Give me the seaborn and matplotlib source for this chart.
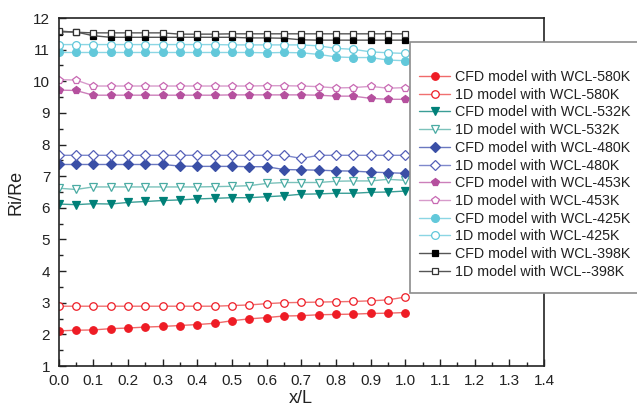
import numpy as np
import pandas as pd
import matplotlib
matplotlib.use("Agg")
import matplotlib.pyplot as plt
from matplotlib.patches import Rectangle
import seaborn as sns

# ---------------- data ----------------
x_over_L = [0.00, 0.05, 0.10, 0.15, 0.20, 0.25, 0.30, 0.35, 0.40, 0.45, 0.50,
            0.55, 0.60, 0.65, 0.70, 0.75, 0.80, 0.85, 0.90, 0.95, 1.00]

cfd_580 = [2.11, 2.13, 2.14, 2.18, 2.20, 2.23, 2.25, 2.28, 2.31, 2.35, 2.43,
           2.49, 2.53, 2.58, 2.59, 2.62, 2.63, 2.64, 2.66, 2.67, 2.69]
d1_580 = [2.89, 2.89, 2.89, 2.89, 2.89, 2.89, 2.89, 2.89, 2.89, 2.89, 2.91,
          2.93, 2.97, 3.00, 3.01, 3.02, 3.03, 3.04, 3.06, 3.09, 3.18]
cfd_532 = [6.12, 6.10, 6.13, 6.12, 6.17, 6.20, 6.23, 6.25, 6.28, 6.30, 6.32,
           6.32, 6.35, 6.38, 6.43, 6.44, 6.46, 6.46, 6.49, 6.50, 6.53]
d1_532 = [6.62, 6.58, 6.66, 6.66, 6.66, 6.66, 6.66, 6.66, 6.66, 6.67, 6.68,
          6.70, 6.77, 6.80, 6.80, 6.80, 6.84, 6.85, 6.85, 6.90, 6.87]
cfd_480 = [7.37, 7.37, 7.37, 7.37, 7.37, 7.37, 7.37, 7.32, 7.31, 7.31, 7.31,
           7.30, 7.30, 7.21, 7.20, 7.19, 7.17, 7.16, 7.13, 7.11, 7.09]
d1_480 = [7.66, 7.66, 7.66, 7.66, 7.66, 7.66, 7.66, 7.66, 7.66, 7.66, 7.66,
          7.66, 7.66, 7.66, 7.56, 7.66, 7.66, 7.66, 7.66, 7.66, 7.66]
cfd_453 = [9.72, 9.71, 9.56, 9.56, 9.56, 9.56, 9.56, 9.56, 9.56, 9.56, 9.57,
           9.57, 9.57, 9.57, 9.57, 9.56, 9.53, 9.53, 9.46, 9.43, 9.43]
d1_453 = [10.05, 10.04, 9.85, 9.85, 9.85, 9.85, 9.85, 9.85, 9.85, 9.85, 9.85,
          9.85, 9.86, 9.86, 9.85, 9.83, 9.79, 9.80, 9.84, 9.78, 9.80]
cfd_425 = [10.91, 10.91, 10.91, 10.91, 10.91, 10.91, 10.91, 10.91, 10.91, 10.91, 10.91,
           10.91, 10.90, 10.91, 10.90, 10.85, 10.77, 10.75, 10.75, 10.67, 10.65]
d1_425 = [11.16, 11.16, 11.16, 11.16, 11.16, 11.16, 11.16, 11.16, 11.16, 11.16, 11.15,
          11.15, 11.15, 11.15, 11.15, 11.12, 11.04, 11.01, 10.93, 10.90, 10.88]
cfd_398 = [11.56, 11.56, 11.44, 11.39, 11.39, 11.39, 11.39, 11.39, 11.39, 11.39, 11.39,
           11.37, 11.37, 11.36, 11.31, 11.30, 11.30, 11.30, 11.30, 11.30, 11.30]
d1_398 = [11.59, 11.55, 11.53, 11.53, 11.53, 11.53, 11.53, 11.49, 11.49, 11.49, 11.50,
          11.50, 11.50, 11.50, 11.50, 11.50, 11.50, 11.50, 11.50, 11.50, 11.50]

labels = ["CFD model with WCL-580K", "1D model with WCL-580K",
          "CFD model with WCL-532K", "1D model with WCL-532K",
          "CFD model with WCL-480K", "1D model with WCL-480K",
          "CFD model with WCL-453K", "1D model with WCL-453K",
          "CFD model with WCL-425K", "1D model with WCL-425K",
          "CFD model with WCL-398K", "1D model with WCL--398K"]
series = [cfd_580, d1_580, cfd_532, d1_532, cfd_480, d1_480,
          cfd_453, d1_453, cfd_425, d1_425, cfd_398, d1_398]

# ---------------- styles ----------------
marker_colors = ["#ee1c25", "#ee1c25", "#008078", "#4aaba3", "#3a4fa6", "#5560b8",
                 "#b5509e", "#c869b3", "#62c8da", "#62c8da", "#000000", "#333333"]
line_colors = ["#f06a6a", "#f07070", "#3a9e96", "#7cc2bb", "#6a78c0", "#7f89cc",
               "#cc7fba", "#d79bcb", "#8bd6e4", "#8bd6e4", "#555555", "#555555"]
markers = ["o", "o", "v", "v", "D", "D", "p", "p", "o", "o", "s", "s"]
msizes = [5.4, 5.4, 5.8, 5.8, 5.4, 5.4, 5.9, 5.9, 5.6, 5.6, 4.8, 4.8]
filled = [True, False] * 6

sns.set_theme(style="ticks")
plt.rcParams["font.family"] = ["Liberation Sans", "DejaVu Sans"]

fig = plt.figure(figsize=(6.37, 4.07), dpi=100)
ax = fig.add_axes([58.5 / 637, 1 - 366 / 407, (544 - 58.5) / 637, (366 - 18) / 407])

for lab, ys, mc, lc, mk, ms, fl in zip(labels, series, marker_colors, line_colors,
                                        markers, msizes, filled):
    df = pd.DataFrame({"x": x_over_L, "y": ys})
    sns.lineplot(data=df, x="x", y="y", ax=ax, label=lab, color=lc, linewidth=1.0,
                 marker=mk, markersize=ms, markeredgewidth=0.9,
                 markerfacecolor=(mc if fl else "white"), markeredgecolor=mc,
                 estimator=None, sort=False)

ax.set_xlim(0, 1.4)
ax.set_ylim(1, 12)
ax.set_xticks(np.round(np.arange(0, 1.41, 0.1), 2))
ax.set_xticks(np.round(np.arange(0.05, 1.4, 0.1), 2), minor=True)
ax.set_yticks(np.arange(1, 13, 1))
ax.set_yticks(np.arange(1.5, 12, 1), minor=True)
ax.set_xticklabels([f"{v:.1f}" for v in np.arange(0, 1.41, 0.1)])
ax.set_yticklabels([str(v) for v in range(1, 13)])
ax.tick_params(axis="both", which="major", direction="in", length=5, width=1.0,
               labelsize=11, pad=6, color="#222222", labelcolor="#222222")
ax.tick_params(axis="both", which="minor", direction="in", length=3, width=1.0,
               color="#222222")
for s in ax.spines.values():
    s.set_linewidth(1.2)
    s.set_color("#222222")
ax.set_xlabel("x/L", fontsize=13, labelpad=1, color="#222222")
ax.set_ylabel("Ri/Re", fontsize=13, labelpad=6, color="#222222")

handles, labs = ax.get_legend_handles_labels()
ax.get_legend().remove()

rect = Rectangle((410 / 637, 1 - 293 / 407), 0.5, (293 - 41.7) / 407,
                 transform=fig.transFigure, facecolor="white", edgecolor="#8c8c8c",
                 linewidth=1.2, zorder=3)
fig.add_artist(rect)
leg = fig.legend(handles, labs, loc="upper left",
                 bbox_to_anchor=(419 / 637, 1 - 70 / 407),
                 frameon=False, fontsize=10.3, handlelength=2.2, handletextpad=0.35,
                 labelspacing=0.26, borderpad=0, borderaxespad=0)
leg.set_zorder(4)
for t in leg.get_texts():
    t.set_color("#222222")

fig.savefig("out.png", dpi=100)
